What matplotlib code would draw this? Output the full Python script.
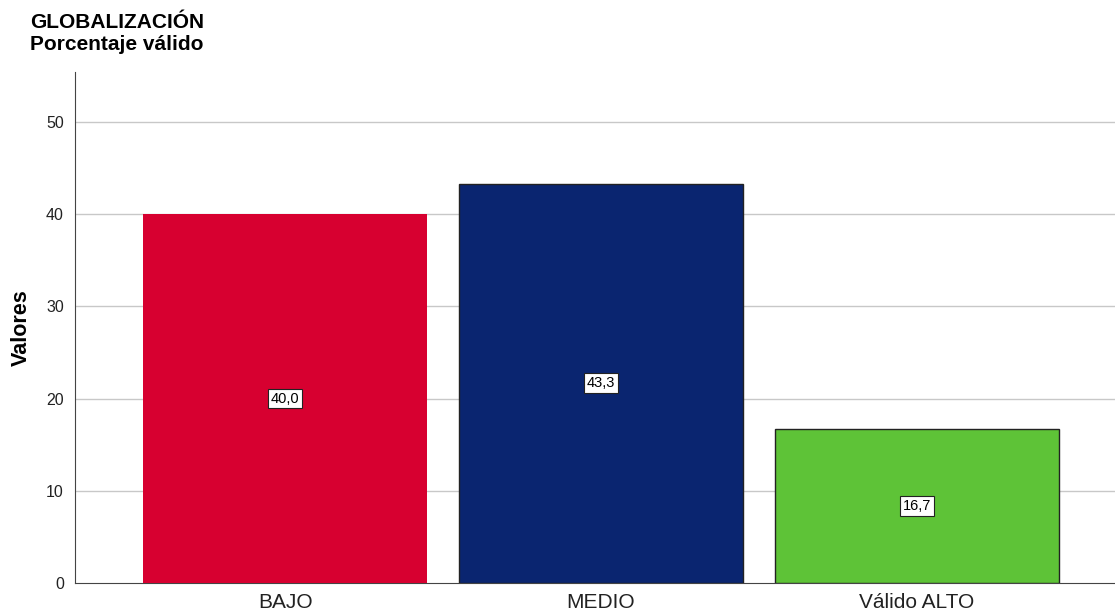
import matplotlib
matplotlib.use("Agg")
import matplotlib.pyplot as plt

categories = ["BAJO", "MEDIO", "Válido ALTO"]
values = [40.0, 43.3, 16.7]
colors = ["#D70030", "#0A2570", "#5EC337"]
edge_colors = ["none", "#222222", "#222222"]
yticks = [0, 10, 20, 30, 40, 50]

plt.rcParams["font.family"] = ["Liberation Sans", "DejaVu Sans"]

fig = plt.figure(figsize=(11.15, 6.15), dpi=100)
ax = fig.add_axes([75 / 1115, 1 - 583 / 615, 1040 / 1115, (583 - 72) / 615])

x = list(range(len(categories)))
for xi, v, c, ec in zip(x, values, colors, edge_colors):
    ax.bar(xi, v, width=0.899, color=c, edgecolor=ec, linewidth=1.0, zorder=3)
    ax.text(xi, v / 2, f"{v:.1f}".replace(".", ","), ha="center", va="center",
            fontsize=10.5, zorder=4,
            bbox=dict(boxstyle="square,pad=0.2", facecolor="white",
                      edgecolor="#222222", linewidth=0.8))

ax.set_xlim(-0.665, 2.627)
ax.set_ylim(0, 55.4)
ax.set_yticks(yticks)
ax.set_xticks(x)
ax.set_xticklabels(categories, fontsize=15, color="#222222")
ax.tick_params(axis="y", length=0, labelsize=11.5, pad=8, colors="#222222")
ax.tick_params(axis="x", length=0, pad=7)
for t in yticks[1:]:
    ax.axhline(t, color="#c8c8c8", linewidth=1.0, zorder=1)

for side in ["top", "right"]:
    ax.spines[side].set_visible(False)
ax.spines["left"].set_color("#444444")
ax.spines["bottom"].set_color("#444444")

ax.set_ylabel("Valores", fontsize=15.5, fontweight="bold", labelpad=10)

fig.text(30 / 1115, 1 - 22 / 615, "GLOBALIZACIÓN", fontsize=15, fontweight="bold",
         va="center", ha="left")
fig.text(30 / 1115, 1 - 45 / 615, "Porcentaje válido", fontsize=15, fontweight="bold",
         va="center", ha="left")

fig.savefig("out.png", dpi=100)
